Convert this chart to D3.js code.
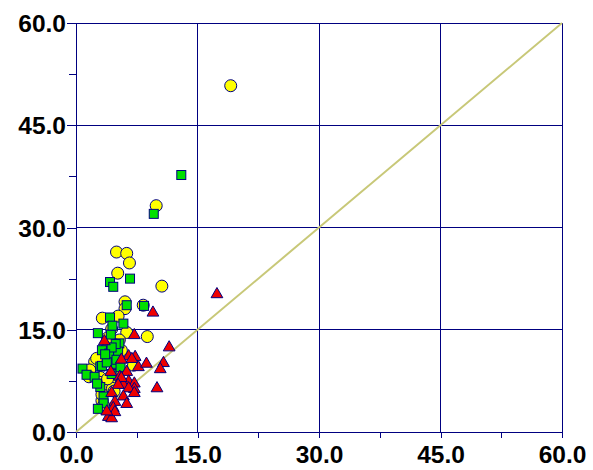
<!DOCTYPE html>
<html><head><meta charset="utf-8">
<script src="https://cdn.jsdelivr.net/npm/d3@7"></script>
<style>body{margin:0;background:#fff}svg{display:block}</style>
</head><body>
<script>
const majorTicks = [0, 15, 30, 45, 60];
const minorTicks = [7.5, 22.5, 37.5, 52.5];
const tickLabels = ["0.0", "15.0", "30.0", "45.0", "60.0"];
const diagonal = [[0, 0], [60, 60]];
const yellowCircles = [[19.1,50.8],[9.9,33.2],[10.6,21.4],[5.0,26.4],[6.26,26.2],[6.6,24.8],[5.15,23.3],[6.05,19.1],[6.05,18.1],[8.3,18.6],[3.25,16.7],[5.2,17.0],[4.4,15.1],[6.26,14.6],[8.8,14.0],[5.35,13.5],[2.3,10.3],[2.55,10.8],[1.7,9.1],[4.2,7.4],[7.1,9.8],[3.0,8.0],[3.8,12.2],[4.6,11.5],[3.2,4.6],[3.5,6.2],[4.5,6.4],[2.9,7.3],[5.0,9.0],[4.8,12.8],[3.9,13.8],[5.6,12.0],[3.4,3.9],[1.6,8.1],[4.7,6.0],[3.2,5.5],[3.9,7.8]];
const greenSquares = [[13.0,37.7],[9.6,32.0],[6.67,22.5],[4.2,22.0],[4.6,21.3],[6.26,18.6],[8.4,18.5],[4.2,16.8],[5.85,15.9],[2.7,14.5],[4.3,14.3],[5.35,13.0],[3.2,12.0],[4.1,11.5],[5.2,11.8],[4.8,10.0],[3.0,9.6],[0.8,9.3],[1.3,8.4],[4.4,8.5],[2.3,8.1],[3.2,9.7],[3.0,6.6],[3.4,5.2],[3.4,4.2],[2.7,3.4],[4.9,12.9],[5.0,10.6],[3.8,10.2],[4.4,12.4],[2.6,7.1],[3.6,11.4],[5.5,9.5],[4.5,15.6]];
const redTriangles = [[17.4,20.2],[9.5,17.5],[7.2,14.2],[11.5,12.4],[3.5,13.3],[6.5,11.1],[7.3,11.0],[7.7,9.5],[8.7,10.0],[10.8,10.1],[10.4,9.2],[6.26,8.8],[6.5,7.4],[7.2,7.1],[10.0,6.4],[5.6,10.6],[5.4,8.1],[5.85,6.9],[5.6,7.9],[7.2,6.3],[6.5,6.4],[7.2,5.7],[5.2,6.9],[4.4,5.7],[5.85,5.2],[6.26,4.1],[4.8,4.4],[4.6,3.5],[4.0,2.2],[4.4,2.0],[4.8,2.9],[6.9,10.7],[4.3,8.8],[3.8,3.0]];

const W = 593, H = 470;
const navy = "#000080";
const svg = d3.select("body").append("svg").attr("width", W).attr("height", H);
const x = d3.scaleLinear().domain([0, 60]).range([76, 562]);
const y = d3.scaleLinear().domain([0, 60]).range([432, 23]);

// grid
const g = svg.append("g").attr("stroke", navy).attr("stroke-width", 1).attr("shape-rendering", "crispEdges");
majorTicks.slice(1).forEach(v => {
  g.append("line").attr("x1", x(v)).attr("x2", x(v)).attr("y1", y(0)).attr("y2", y(60));
  g.append("line").attr("x1", x(0)).attr("x2", x(60)).attr("y1", y(v)).attr("y2", y(v));
});

// axes
const xAxis = d3.axisBottom(x).tickValues(majorTicks).tickSize(6).tickFormat((d, i) => tickLabels[i]);
const yAxis = d3.axisLeft(y).tickValues(majorTicks).tickSize(9).tickFormat((d, i) => tickLabels[i]);
const xMinor = d3.axisBottom(x).tickValues(minorTicks).tickSize(6).tickFormat("");
const yMinor = d3.axisLeft(y).tickValues(minorTicks).tickSize(7).tickFormat("");

function style(sel) {
  sel.select(".domain").remove();
  sel.selectAll("line").attr("stroke", navy).attr("shape-rendering", "crispEdges");
  sel.selectAll("text").attr("fill", "#000").attr("font-family", "'Liberation Sans', Arial, sans-serif")
     .attr("font-weight", "bold").attr("font-size", 24.5);
}
const gx = svg.append("g").attr("transform", `translate(0,${y(0)})`).call(xAxis).call(style);
gx.selectAll("text").attr("dy", null).attr("y", 31);
svg.append("g").attr("transform", `translate(0,${y(0)})`).call(xMinor).call(style);
const gy = svg.append("g").attr("transform", `translate(${x(0)},0)`).call(yAxis).call(style);
gy.selectAll("text").attr("x", -10).attr("dy", "0.35em");
svg.append("g").attr("transform", `translate(${x(0)},0)`).call(yMinor).call(style);

svg.append("line").attr("x1", x(0)).attr("x2", x(60)).attr("y1", y(0)).attr("y2", y(0))
  .attr("stroke", navy).attr("shape-rendering", "crispEdges");
svg.append("line").attr("x1", x(0)).attr("x2", x(0)).attr("y1", y(0)).attr("y2", y(60))
  .attr("stroke", navy).attr("shape-rendering", "crispEdges");

// diagonal
svg.append("path").datum(diagonal)
  .attr("d", d3.line().x(d => x(d[0])).y(d => y(d[1])))
  .attr("stroke", "#c8c878").attr("stroke-width", 2).attr("fill", "none");

// markers
svg.append("g").selectAll("circle").data(yellowCircles).join("circle")
  .attr("cx", d => x(d[0])).attr("cy", d => y(d[1])).attr("r", 6)
  .attr("fill", "#ffff00").attr("stroke", navy).attr("stroke-width", 1);
svg.append("g").selectAll("rect").data(greenSquares).join("rect")
  .attr("x", d => x(d[0]) - 4.5).attr("y", d => y(d[1]) - 4.5).attr("width", 9).attr("height", 9)
  .attr("fill", "#00e000").attr("stroke", navy).attr("stroke-width", 1);
const tri = d3.symbol().type(d3.symbolTriangle).size(60);
svg.append("g").selectAll("path").data(redTriangles).join("path")
  .attr("transform", d => `translate(${x(d[0])},${y(d[1])})`).attr("d", tri)
  .attr("fill", "#ee0000").attr("stroke", navy).attr("stroke-width", 1);
</script>
</body></html>
